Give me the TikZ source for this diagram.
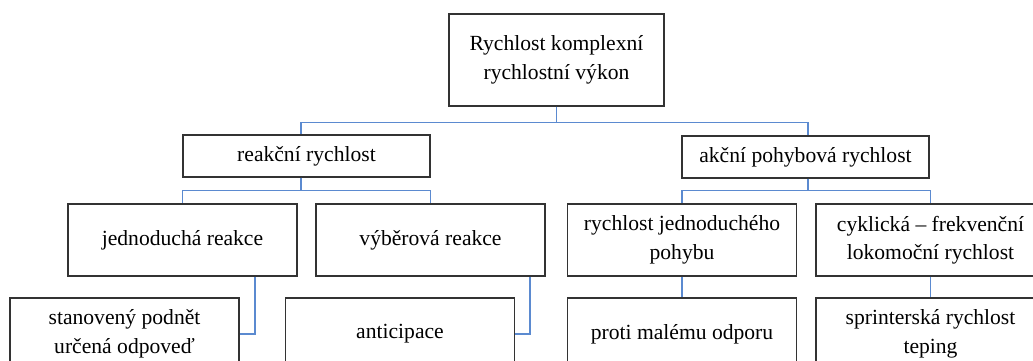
\documentclass[tikz,border=0pt]{standalone}
\usepackage{fontspec}
\setmainfont{Liberation Serif}
\definecolor{boxline}{HTML}{333333}
\definecolor{connblue}{HTML}{5B8AD0}
\begin{document}
\begin{tikzpicture}[x=1pt,y=-1pt,
  box/.style={draw=boxline, line width=1.3pt, fill=white, align=center, inner sep=0pt,
    font=\fontsize{21.6}{28.5}\selectfont, text=black},
  lvlthree/.style={box, minimum width=229pt, minimum height=72pt},
  conn/.style={draw=connblue, line width=1.1pt}]
\useasboundingbox (0,0) rectangle (1033,361);
\clip (0,0) rectangle (1033,361);
\node[box, minimum width=215pt, minimum height=92pt] (top) at (556.5,60) {\rule{0pt}{10pt}Rychlost komplexní\\rychlostní výkon};
\node[box, minimum width=247pt, minimum height=42pt] (reak) at (306.5,156) {reakční rychlost};
\node[box, minimum width=247pt, minimum height=42pt] (akc) at (805.5,157) {akční pohybová rychlost};
\node[lvlthree] (jed) at (182.5,240) {jednoduchá reakce};
\node[lvlthree] (vyb) at (430.5,240) {výběrová reakce};
\node[lvlthree] (rjp) at (682,240) {rychlost jednoduchého\\pohybu};
\node[lvlthree] (cyk) at (930.5,240) {cyklická – frekvenční\\lokomoční rychlost};
\node[lvlthree] (stan) at (124.5,334) {stanovený podnět\\určená odpoveď};
\node[lvlthree] (anti) at (400,334) {anticipace};
\node[lvlthree] (proti) at (682,334) {proti malému odporu};
\node[lvlthree] (sprint) at (930.5,334) {sprinterská rychlost\\teping};
\coordinate (rx) at (301,0);
\coordinate (ax) at (808,0);
\coordinate (jx) at (255,0);
\coordinate (vx) at (530,0);
\draw[conn] (top.south) -- ++(0,16) -| (reak.north -| rx);
\draw[conn] (top.south) -- ++(0,16) -| (akc.north -| ax);
\draw[conn] (reak.south -| rx) -- ++(0,13) -| (jed.north);
\draw[conn] (reak.south -| rx) -- ++(0,13) -| (vyb.north);
\draw[conn] (akc.south -| ax) -- ++(0,12) -| (rjp.north);
\draw[conn] (akc.south -| ax) -- ++(0,12) -| (cyk.north);
\draw[conn] (jed.south -| jx) |- (stan.east);
\draw[conn] (vyb.south -| vx) |- (anti.east);
\draw[conn] (rjp.south) -- (proti.north);
\draw[conn] (cyk.south) -- (sprint.north);
\end{tikzpicture}
\end{document}
